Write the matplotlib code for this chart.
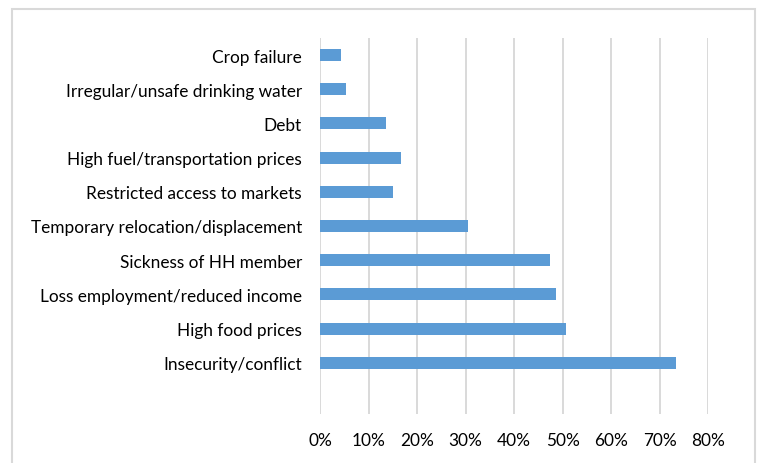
import matplotlib.pyplot as plt
from matplotlib.patches import Rectangle
from matplotlib.ticker import PercentFormatter

plt.rcParams['font.family'] = ['Lato', 'DejaVu Sans']

# categories listed bottom to top
causes = [
    'Insecurity/conflict',
    'High food prices',
    'Loss employment/reduced income',
    'Sickness of HH member',
    'Temporary relocation/displacement',
    'Restricted access to markets',
    'High fuel/transportation prices',
    'Debt',
    'Irregular/unsafe drinking water',
    'Crop failure',
]
shares = [0.734, 0.506, 0.487, 0.473, 0.305, 0.150, 0.166, 0.137, 0.054, 0.044]

fig = plt.figure(figsize=(7.6, 4.64), dpi=100)
ax = fig.add_axes([0.421, 0.1056, 0.511, 0.8104])

ypos = list(range(len(causes)))
ax.barh(ypos, shares, height=0.35, color='#5B9BD5', zorder=3)

ax.set_xlim(0, 0.8)
ax.set_ylim(-1.5, len(causes) - 0.5)
ax.set_xticks([i / 10 for i in range(9)])
ax.xaxis.set_major_formatter(PercentFormatter(1.0, decimals=0))
ax.set_yticks(ypos)
ax.set_yticklabels(causes)

ax.grid(axis='x', color='#D9D9D9', linewidth=1.4, zorder=0)
for s in ax.spines.values():
    s.set_visible(False)
ax.tick_params(axis='both', length=0, labelsize=12.4, colors='#000000')
ax.tick_params(axis='x', pad=13)
ax.tick_params(axis='y', pad=13)

# chart area border
fig.patches.append(Rectangle((12 / 760, -0.05), 743 / 760, 1.05 - 10 / 464,
                             transform=fig.transFigure, fill=False,
                             edgecolor='#D9D9D9', linewidth=1.5))

fig.savefig('out.png', dpi=100)
